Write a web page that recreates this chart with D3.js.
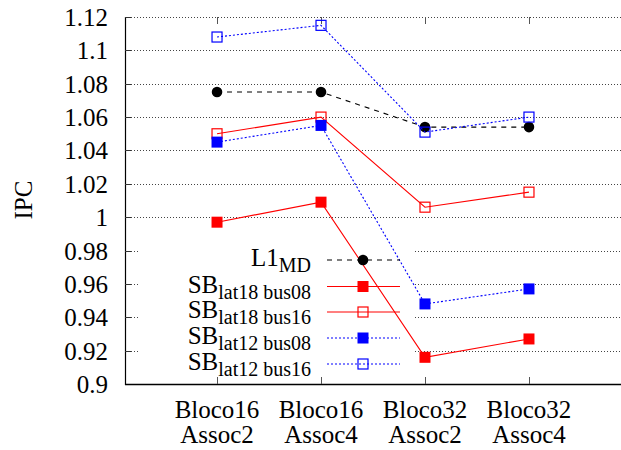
<!DOCTYPE html>
<html>
<head>
<meta charset="utf-8">
<script src="https://cdn.jsdelivr.net/npm/d3@7"></script>
<style>
  body { margin: 0; background: #fff; }
  svg { display: block; }
</style>
</head>
<body>
<svg width="621" height="450"></svg>
<script>
// categories (two-line labels)
const categories = [["Bloco16", "Assoc2"], ["Bloco16", "Assoc4"], ["Bloco32", "Assoc2"], ["Bloco32", "Assoc4"]];
const yTicks = [0.9, 0.92, 0.94, 0.96, 0.98, 1, 1.02, 1.04, 1.06, 1.08, 1.1, 1.12];

// series values
const l1md = [1.075, 1.075, 1.054, 1.054];
const sbLat18Bus08 = [0.997, 1.009, 0.916, 0.927];
const sbLat18Bus16 = [1.050, 1.060, 1.006, 1.015];
const sbLat12Bus08 = [1.045, 1.055, 0.948, 0.957];
const sbLat12Bus16 = [1.108, 1.115, 1.051, 1.060];

const series = [
  { main: "L1", sub: "MD", values: l1md, color: "#000", dash: "5,5", marker: "circle" },
  { main: "SB", sub: "lat18 bus08", values: sbLat18Bus08, color: "#ff0000", dash: null, marker: "fillsq" },
  { main: "SB", sub: "lat18 bus16", values: sbLat18Bus16, color: "#ff0000", dash: null, marker: "opensq" },
  { main: "SB", sub: "lat12 bus08", values: sbLat12Bus08, color: "#0000ff", dash: "2,2", marker: "fillsq" },
  { main: "SB", sub: "lat12 bus16", values: sbLat12Bus16, color: "#0000ff", dash: "2,2", marker: "opensq" }
];

const svg = d3.select("svg")
  .style("font-family", '"Liberation Serif", "Times New Roman", serif');
const plotL = 125, plotR = 621, plotT = 17, plotB = 384;

const x = d3.scaleLinear().domain([-0.885, 3.885]).range([plotL, plotR]);
const y = d3.scaleLinear().domain([0.9, 1.12]).range([plotB, plotT]);

// key box (grid is not drawn behind it)
const key = { x0: 140, x1: 415, y0: 238, y1: plotB };

// grid
const grid = svg.append("g")
  .attr("stroke", "#444")
  .attr("stroke-width", 1)
  .attr("stroke-dasharray", "1,2");

yTicks.filter(t => t > 0.9).forEach(t => {
  const yy = Math.round(y(t)) + 0.5;
  const segs = (yy > key.y0 && yy < key.y1)
    ? [[plotL, key.x0], [key.x1, plotR]]
    : [[plotL, plotR]];
  segs.forEach(s => {
    grid.append("line")
      .attr("x1", s[0]).attr("x2", s[1])
      .attr("y1", yy).attr("y2", yy);
  });
});

// axes
svg.append("line")
  .attr("x1", plotL + 0.5).attr("x2", plotL + 0.5)
  .attr("y1", plotT).attr("y2", plotB + 1)
  .attr("stroke", "#000").attr("stroke-width", 1.2);
svg.append("line")
  .attr("x1", plotL).attr("x2", plotR)
  .attr("y1", plotB + 0.5).attr("y2", plotB + 0.5)
  .attr("stroke", "#000").attr("stroke-width", 1.4);

// y ticks (inward)
yTicks.filter(t => t > 0.9).forEach(t => {
  const yy = Math.round(y(t)) + 0.5;
  svg.append("line").attr("x1", plotL).attr("x2", plotL + 6).attr("y1", yy).attr("y2", yy)
    .attr("stroke", "#333");
});

// x ticks (bottom and top, inward)
categories.forEach((c, i) => {
  const xx = Math.round(x(i)) + 0.5;
  svg.append("line").attr("x1", xx).attr("x2", xx).attr("y1", plotB).attr("y2", plotB - 7)
    .attr("stroke", "#555");
  svg.append("line").attr("x1", xx).attr("x2", xx).attr("y1", plotT).attr("y2", plotT + 7)
    .attr("stroke", "#555");
});

// y tick labels
svg.append("g").selectAll("text")
  .data(yTicks)
  .join("text")
  .attr("x", 108)
  .attr("y", d => y(d) + 9)
  .attr("text-anchor", "end")
  .attr("font-size", 25)
  .text(d => d3.format("~g")(d));

// x tick labels
const xl = svg.append("g").selectAll("text")
  .data(categories)
  .join("text")
  .attr("text-anchor", "middle")
  .attr("font-size", 25);
xl.append("tspan").attr("x", (d, i) => x(i)).attr("y", 418).text(d => d[0]);
xl.append("tspan").attr("x", (d, i) => x(i)).attr("y", 443).text(d => d[1]);

// y axis title
svg.append("text")
  .attr("transform", "translate(32,200) rotate(-90)")
  .attr("text-anchor", "middle")
  .attr("font-size", 25)
  .text("IPC");

function drawMarker(g, type, color, cx, cy) {
  if (type === "circle") {
    g.append("circle").attr("cx", cx).attr("cy", cy).attr("r", 5.3).attr("fill", color);
  } else if (type === "fillsq") {
    g.append("rect").attr("x", cx - 5.5).attr("y", cy - 5.5).attr("width", 11).attr("height", 11)
      .attr("fill", color);
  } else {
    g.append("rect").attr("x", cx - 5).attr("y", cy - 5).attr("width", 10).attr("height", 10)
      .attr("fill", "none").attr("stroke", color).attr("stroke-width", 1.2);
  }
}

const line = d3.line().x((d, i) => x(i)).y(d => y(d));

// series lines + markers
series.forEach(s => {
  const g = svg.append("g");
  g.append("path")
    .attr("d", line(s.values))
    .attr("fill", "none")
    .attr("stroke", s.color)
    .attr("stroke-width", 1.1)
    .attr("stroke-dasharray", s.dash);
  s.values.forEach((v, i) => drawMarker(g, s.marker, s.color, x(i), y(v)));
});

// legend
const rowY = [260, 286.5, 312, 338, 364];
series.forEach((s, k) => {
  const g = svg.append("g");
  const ry = rowY[k];
  g.append("line")
    .attr("x1", 327).attr("x2", 400)
    .attr("y1", ry).attr("y2", ry)
    .attr("stroke", s.color)
    .attr("stroke-width", 1.1)
    .attr("stroke-dasharray", s.dash);
  drawMarker(g, s.marker, s.color, 363, ry);
  const t = g.append("text")
    .attr("x", 311)
    .attr("y", ry + 6)
    .attr("text-anchor", "end")
    .attr("font-size", 25);
  t.append("tspan").text(s.main);
  t.append("tspan").attr("font-size", 20).attr("dy", 6).text(s.sub);
});
</script>
</body>
</html>
